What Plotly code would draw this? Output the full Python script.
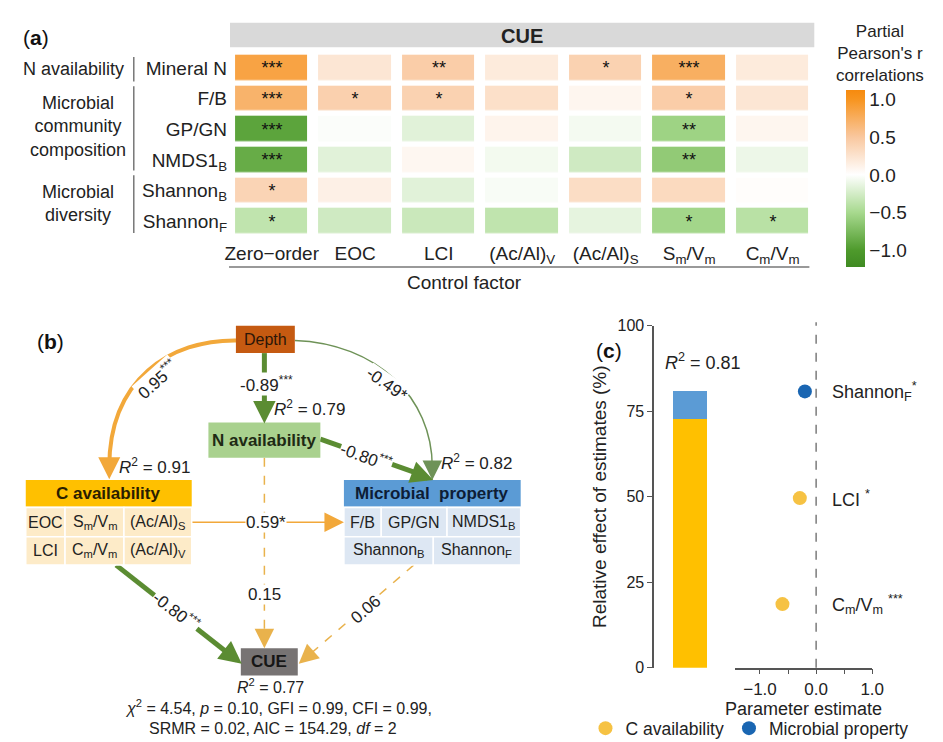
import plotly.graph_objects as go

W, H = 943, 742
FONT = "Liberation Sans, Arial, sans-serif"


def X(px):
    return px / W


def Y(py):
    return 1 - py / H


# ---------------- (a) partial correlation heatmap data ----------------
control_factors = ["Zero−order", "EOC", "LCI", "(Ac/Al)<sub>V</sub>", "(Ac/Al)<sub>S</sub>",
                   "S<sub>m</sub>/V<sub>m</sub>", "C<sub>m</sub>/V<sub>m</sub>"]
variables = ["Mineral N", "F/B", "GP/GN", "NMDS1<sub>B</sub>", "Shannon<sub>B</sub>", "Shannon<sub>F</sub>"]
r_mineral_n = [0.85, 0.22, 0.45, 0.18, 0.40, 0.74, 0.18]
r_fb = [0.70, 0.42, 0.40, 0.28, 0.08, 0.45, 0.22]
r_gpgn = [-0.92, -0.02, -0.17, 0.10, -0.06, -0.55, 0.08]
r_nmds1b = [-0.86, -0.17, 0.07, -0.07, -0.27, -0.62, -0.10]
r_shannon_b = [0.38, 0.13, -0.17, -0.04, 0.30, 0.33, 0.02]
r_shannon_f = [-0.36, -0.27, -0.30, -0.36, -0.14, -0.52, -0.40]
sig_mineral_n = ["***", "", "**", "", "*", "***", ""]
sig_fb = ["***", "*", "*", "", "", "*", ""]
sig_gpgn = ["***", "", "", "", "", "**", ""]
sig_nmds1b = ["***", "", "", "", "", "**", ""]
sig_shannon_b = ["*", "", "", "", "", "", ""]
sig_shannon_f = ["*", "", "", "", "", "*", "*"]
group_names = ["N availability", "Microbial<br>community<br>composition", "Microbial<br>diversity"]
cbar_ticks = [-1.0, -0.5, 0.0, 0.5, 1.0]

# ---------------- (b) SEM path data ----------------
path_coefs = ["0.95<sup>***</sup>", "-0.89<sup>***</sup>", "-0.49*", "-0.80<sup>***</sup>",
              "0.59*", "-0.80<sup>***</sup>", "0.15", "0.06"]
r2_values = ["0.79", "0.91", "0.82", "0.77"]
c_vars = ["EOC", "S<sub>m</sub>/V<sub>m</sub>", "(Ac/Al)<sub>S</sub>",
          "LCI", "C<sub>m</sub>/V<sub>m</sub>", "(Ac/Al)<sub>V</sub>"]
m_vars = ["F/B", "GP/GN", "NMDS1<sub>B</sub>", "Shannon<sub>B</sub>", "Shannon<sub>F</sub>"]
fit_line1 = "<i>χ</i><sup>2</sup> = 4.54, <i>p</i> = 0.10, GFI = 0.99, CFI = 0.99,"
fit_line2 = "SRMR = 0.02, AIC = 154.29, <i>df</i> = 2"

# ---------------- (c) relative effect data ----------------
groups = ["C availability", "Microbial property"]
rel_effect = [72.6, 8.4]
r2_total = "0.81"
c_pred = ["C<sub>m</sub>/V<sub>m</sub>", "LCI"]
c_est = [-0.60, -0.29]
c_err = [0.07, 0.05]
c_pos = [18.6, 49.6]
c_stars = ["***", "*"]
m_pred = ["Shannon<sub>F</sub>"]
m_est = [-0.20]
m_err = [0.03]
m_pos = [80.8]
m_stars = ["*"]

fig = go.Figure()

# ---- heatmap
z = [r_mineral_n, r_fb, r_gpgn, r_nmds1b, r_shannon_b, r_shannon_f]
txt = [sig_mineral_n, sig_fb, sig_gpgn, sig_nmds1b, sig_shannon_b, sig_shannon_f]
zmin, zmax = -1.22, 1.12


def pos(v):
    return (v - zmin) / (zmax - zmin)


cscale = [[0, "#3F8A22"], [pos(-1.0), "#4E9A2C"], [pos(-0.5), "#A7D98E"], [pos(0), "#FFFFFF"],
          [pos(0.5), "#F9C79E"], [pos(1.0), "#F7941E"], [1, "#F68A0E"]]

fig.add_trace(go.Heatmap(
    z=z, x=control_factors, y=variables, text=txt, texttemplate="%{text}",
    textfont=dict(size=18, color="#111", family=FONT),
    zmin=zmin, zmax=zmax, colorscale=cscale, xgap=11, ygap=5.5,
    hoverinfo="skip",
    colorbar=dict(x=X(848), xanchor="left", xpad=0, ypad=0, y=Y(166.5), yanchor="middle",
                  len=181 / H, lenmode="fraction", thickness=19, outlinewidth=0,
                  tickvals=cbar_ticks, ticktext=[f"{t:.1f}".replace("-", "−") for t in cbar_ticks],
                  ticks="", tickfont=dict(size=19, color="#222", family=FONT)),
    xaxis="x", yaxis="y"))

# ---- (c) bars
bar_colors = ["#FFC000", "#5B9BD5"]
for g, v, c in zip(groups, rel_effect, bar_colors):
    fig.add_trace(go.Bar(x=[0], y=[v], width=0.48, marker=dict(color=c, line=dict(width=0)),
                         showlegend=False, hoverinfo="skip", xaxis="x2", yaxis="y2"))

fig.add_trace(go.Scatter(x=c_est, y=c_pos, mode="markers", name=groups[0],
                         marker=dict(color="#F6C243", size=14, symbol="circle"),
                         error_x=dict(type="data", array=c_err, color="#F6C243", thickness=5, width=0),
                         xaxis="x3", yaxis="y3", hoverinfo="skip"))
fig.add_trace(go.Scatter(x=m_est, y=m_pos, mode="markers", name=groups[1],
                         marker=dict(color="#1A66B2", size=14, symbol="circle"),
                         error_x=dict(type="data", array=m_err, color="#1A66B2", thickness=5, width=0),
                         xaxis="x3", yaxis="y3", hoverinfo="skip"))

fig.update_layout(barmode="stack")

shapes = []
ann = []

# ---------------- (a) decorations ----------------
shapes.append(dict(type="rect", xref="paper", yref="paper", x0=X(221), x1=X(816), y0=Y(32), y1=Y(7),
                   fillcolor="#D9D9D9", line=dict(width=0), layer="below"))
ann.append(dict(x=X(518), y=Y(20), text="<b>CUE</b>", font=dict(size=20, color="#222")))
shapes.append(dict(type="line", xref="paper", yref="paper", x0=X(220), x1=X(811), y0=Y(257), y1=Y(257),
                   line=dict(color="#999", width=2)))
ann.append(dict(x=X(460), y=Y(273), text="Control factor", font=dict(size=19, color="#222")))
ann.append(dict(x=X(8), y=Y(22), text="(<b>a</b>)", xanchor="left", font=dict(size=21, color="#111")))
for y0, y1 in [(42, 67), (72, 158), (163, 222)]:
    shapes.append(dict(type="line", xref="paper", yref="paper", x0=X(123), x1=X(123), y0=Y(y0), y1=Y(y1),
                       line=dict(color="#777", width=1.5)))
ann.append(dict(x=X(115), y=Y(54), text=group_names[0], xanchor="right", font=dict(size=18, color="#222")))
ann.append(dict(x=X(66), y=Y(113), text=group_names[1], font=dict(size=18, color="#222")))
ann.append(dict(x=X(66), y=Y(192), text=group_names[2], font=dict(size=18, color="#222")))
ann.append(dict(x=X(883), y=Y(4), yanchor="top", text="Partial<br>Pearson's r<br>correlations",
                font=dict(size=17, color="#222")))

# ---------------- (b) diagram ----------------
def P(px, py):
    return f"{X(px):.5f},{Y(py):.5f}"


def rect(x0, y0, x1, y1, fill, lw=0, lc="white"):
    shapes.append(dict(type="rect", xref="paper", yref="paper", x0=X(x0), x1=X(x1), y0=Y(y1), y1=Y(y0),
                       fillcolor=fill, line=dict(width=lw, color=lc)))


def label(px, py, text, size=16, angle=0, bg=None, color="#222", xanchor="center"):
    d = dict(x=X(px), y=Y(py), text=text, textangle=angle, font=dict(size=size, color=color),
             xanchor=xanchor)
    if bg:
        d.update(bgcolor=bg, borderpad=0)
    ann.append(d)


def head(px, py, dx, dy, color, width, size):
    ann.append(dict(x=X(px), y=Y(py), ax=dx, ay=dy, axref="pixel", ayref="pixel", text="",
                    showarrow=True, arrowhead=2, arrowsize=size, arrowwidth=width,
                    arrowcolor=color, standoff=0, startstandoff=0))


ORANGE = "#F2A83A"
GREEN = "#5B8C32"
THIN_GREEN = "#6E9257"
DASH_OR = "#E9B24C"

# lines (drawn before boxes)
shapes.append(dict(type="path", xref="paper", yref="paper",
                   path=f"M {P(228,332)} C {P(160,331)} {P(98,372)} {P(98,462)}",
                   line=dict(color=ORANGE, width=4)))
shapes.append(dict(type="line", xref="paper", yref="paper", x0=X(256), x1=X(256), y0=Y(345), y1=Y(404),
                   line=dict(color=GREEN, width=5)))
shapes.append(dict(type="path", xref="paper", yref="paper",
                   path=f"M {P(287,332)} C {P(370,335)} {P(427,390)} {P(427,462)}",
                   line=dict(color=THIN_GREEN, width=1.5)))
shapes.append(dict(type="line", xref="paper", yref="paper", x0=X(313), x1=X(412), y0=Y(433), y1=Y(468),
                   line=dict(color=GREEN, width=5)))
shapes.append(dict(type="line", xref="paper", yref="paper", x0=X(182), x1=X(326), y0=Y(518), y1=Y(518),
                   line=dict(color=ORANGE, width=1.5)))
shapes.append(dict(type="line", xref="paper", yref="paper", x0=X(105), x1=X(220), y0=Y(562), y1=Y(653),
                   line=dict(color=GREEN, width=5)))
shapes.append(dict(type="line", xref="paper", yref="paper", x0=X(256), x1=X(256), y0=Y(452), y1=Y(638),
                   line=dict(color=DASH_OR, width=1.5, dash="dash")))
shapes.append(dict(type="line", xref="paper", yref="paper", x0=X(408), x1=X(298), y0=Y(562), y1=Y(657),
                   line=dict(color=DASH_OR, width=1.5, dash="dash")))

head(98, 474, 0, -14, ORANGE, 4, 1.1)
head(256, 417, 0, -14, GREEN, 5, 0.9)
head(427, 475, 0, -14, THIN_GREEN, 1.5, 2.6)
head(428, 475, -16, -6, GREEN, 5, 0.9)
head(337, 518, -12, 0, ORANGE, 1.5, 2.6)
head(233, 663, -14, -11, GREEN, 5, 0.9)
head(256, 647, 0, -10, DASH_OR, 1.5, 2.6)
head(291, 663, 8, -7, DASH_OR, 1.5, 2.6)

# boxes
rect(227, 317, 287, 345, "#C55A11")
label(257, 331, "Depth", color="#2A1608")
rect(199, 416, 313, 452, "#A9D18E")
label(256, 434, "<b>N availability</b>", color="#1E2A14", size=17)
rect(13, 475, 182, 502, "#FFC000")
label(97, 489, "<b>C availability</b>", color="#2A1E00", size=17)
rect(337, 475, 517, 502, "#5B9BD5")
label(427, 489, "<b>Microbial  property</b>", color="#0D1D36", size=17)
# C table
c_cells = [(13, 503, 53, 533), (53, 503, 113, 533), (113, 503, 182, 533),
           (13, 533, 53, 562), (53, 533, 113, 562), (113, 533, 182, 562)]
for (x0, y0, x1, y1), t in zip(c_cells, c_vars):
    rect(x0, y0, x1, y1, "#FDEBC8", lw=1.5, lc="white")
    label((x0 + x1) / 2, (y0 + y1) / 2, t)
m_cells = [(337, 503, 375, 533), (375, 503, 442, 533), (442, 503, 517, 533),
           (337, 533, 428, 562), (428, 533, 517, 562)]
for (x0, y0, x1, y1), t in zip(m_cells, m_vars):
    rect(x0, y0, x1, y1, "#DDE7F3", lw=1.5, lc="white")
    label((x0 + x1) / 2, (y0 + y1) / 2, t)
rect(232, 647, 290, 675, "#777373")
label(261, 661, "<b>CUE</b>", color="#161616", size=17)

# path labels
label(147, 372, path_coefs[0], angle=-42, bg="white", size=17)
label(258, 377, path_coefs[1], bg="white", size=17)
label(381, 377, path_coefs[2], angle=35, bg="white", size=17)
label(360, 450, path_coefs[3], angle=20, bg="white", size=17)
label(258, 518, path_coefs[4], bg="white", size=17)
label(167, 609, path_coefs[5], angle=38, bg="white", size=17)
label(256, 592, path_coefs[6], bg="white", size=17)
label(359, 607, path_coefs[7], angle=-41, bg="white", size=17)

label(302, 401, f"<i>R</i><sup>2</sup> = {r2_values[0]}", size=17)
label(144, 461, f"<i>R</i><sup>2</sup> = {r2_values[1]}", size=17)
label(472, 456, f"<i>R</i><sup>2</sup> = {r2_values[2]}", size=17)
label(262, 686, f"<i>R</i><sup>2</sup> = {r2_values[3]}", size=16)
label(270, 707, fit_line1)
label(265, 729, fit_line2)
ann.append(dict(x=X(22), y=Y(333), text="(<b>b</b>)", xanchor="left", font=dict(size=21, color="#111")))

# ---------------- (c) decorations ----------------
ann.append(dict(x=X(592), y=Y(342), text="(<b>c</b>)", xanchor="left", font=dict(size=21, color="#111")))
ann.append(dict(x=X(703), y=Y(354), text=f"<i>R</i><sup>2</sup> = {r2_total}", font=dict(size=18, color="#222")))
shapes.append(dict(type="line", xref="x3", yref="y3 domain", x0=0, x1=0, y0=0, y1=1.01,
                   line=dict(color="#666", width=1.3, dash="dash")))
for n, e, p, s in zip(c_pred + m_pred, c_est + m_est, c_pos + m_pos, c_stars + m_stars):
    sep = " " if s == "***" or n == "LCI" else ""
    ann.append(dict(x=0.24, y=p, xref="x3", yref="y3", xanchor="left", text=f"{n}{sep}<sup>{s}</sup>",
                    font=dict(size=18, color="#222")))

for a in ann:
    a.setdefault("xref", "paper")
    a.setdefault("yref", "paper")
    a.setdefault("showarrow", False)
    a.setdefault("xanchor", "center")
    a.setdefault("yanchor", "middle")

fig.update_layout(
    width=W, height=H, margin=dict(l=0, r=0, t=0, b=0),
    paper_bgcolor="white", plot_bgcolor="white",
    font=dict(family=FONT, size=16, color="#222"),
    xaxis=dict(domain=[X(221), X(816)], showgrid=False, zeroline=False, ticks="", showline=False,
               tickfont=dict(size=19), ticklabelstandoff=3, anchor="y"),
    yaxis=dict(domain=[Y(226), Y(37.5)], autorange="reversed", showgrid=False, zeroline=False,
               ticks="", tickfont=dict(size=19), anchor="x", ticklabelstandoff=2),
    xaxis2=dict(domain=[X(653), X(725)], range=[-0.5, 0.5], visible=False, anchor="y2"),
    yaxis2=dict(domain=[Y(667), Y(317)], range=[0, 100], anchor="x2", showgrid=False, zeroline=False,
                showline=True, linecolor="#555", linewidth=1.5, ticks="outside", ticklen=5,
                tickcolor="#555", tickvals=[0, 25, 50, 75, 100], tickfont=dict(size=16),
                title=dict(text="Relative effect of estimates (%)", font=dict(size=19), standoff=6)),
    xaxis3=dict(domain=[X(735), X(875)], range=[-1.45, 1.0], anchor="y3", showgrid=False, zeroline=False,
                showline=True, linecolor="#555", linewidth=1.5, ticks="outside", ticklen=5, tickcolor="#555",
                tickvals=[-1, -0.5, 0, 0.5, 1], ticktext=["−1.0", "", "0.0", "", "1.0"],
                tickfont=dict(size=17),
                title=dict(text="Parameter estimate", font=dict(size=18), standoff=2)),
    yaxis3=dict(domain=[Y(667), Y(317)], range=[0, 100], anchor="x3", visible=False),
    legend=dict(orientation="h", x=X(583), y=Y(729), xanchor="left", yanchor="middle",
                font=dict(size=17.5), itemwidth=30, bgcolor="rgba(0,0,0,0)", tracegroupgap=0,
                traceorder="normal"),
    shapes=shapes, annotations=ann,
)

fig.write_html("out.html")
